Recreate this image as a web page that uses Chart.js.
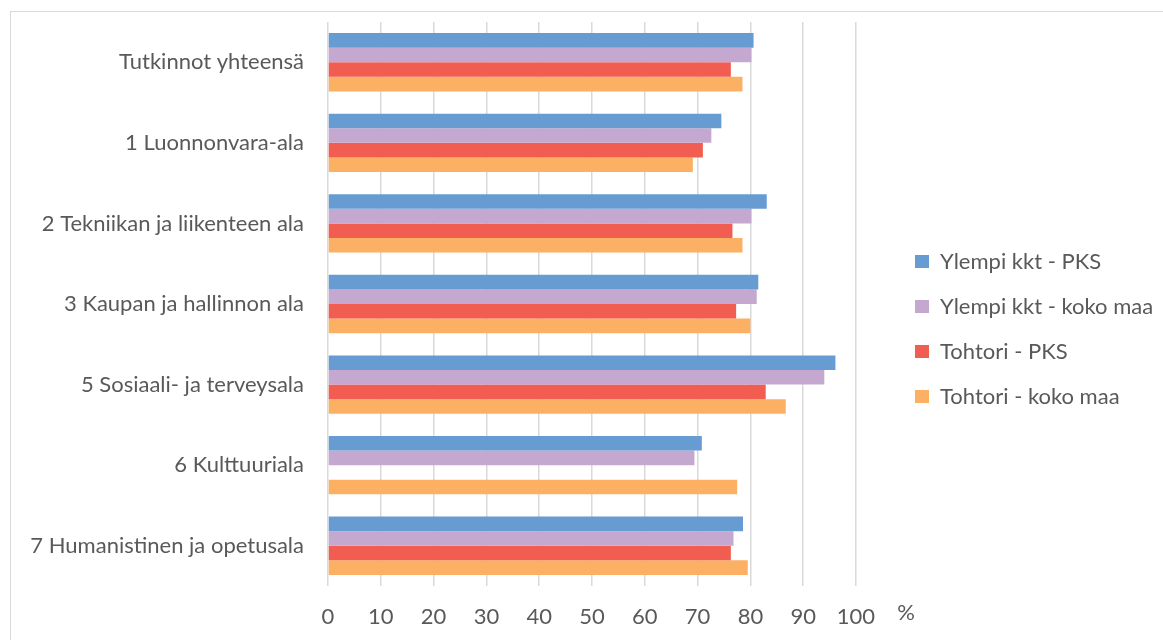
<!DOCTYPE html>
<html>
<head>
<meta charset="utf-8">
<script src="https://cdn.jsdelivr.net/npm/chart.js@4.4.0/dist/chart.umd.min.js"></script>
<style>
  html, body { margin: 0; padding: 0; background: #fff; overflow: hidden; }
  #frame { position: absolute; left: 10px; top: 11px; width: 1300px; height: 700px; border: 1px solid #d9d9d9; }
  #wrap { position: absolute; left: 0; top: 0; width: 1300px; height: 640px; }
</style>
</head>
<body>
<div id="frame"></div>
<div id="wrap"><canvas id="chart" width="1300" height="640"></canvas></div>
<script>
// categories (top to bottom)
const categories = [
    'Tutkinnot yhteensä',
    '1 Luonnonvara-ala',
    '2 Tekniikan ja liikenteen ala',
    '3 Kaupan ja hallinnon ala',
    '5 Sosiaali- ja terveysala',
    '6 Kulttuuriala',
    '7 Humanistinen ja opetusala'
];

// series values, %
const ylempiPks      = [80.6, 74.5, 83.1, 81.5, 96.1, 70.8, 78.6];
const ylempiKokoMaa  = [80.2, 72.6, 80.2, 81.2, 94.0, 69.4, 76.8];
const tohtoriPks     = [76.3, 71.0, 76.6, 77.3, 82.9, null, 76.3];
const tohtoriKokoMaa = [78.5, 69.1, 78.5, 80.0, 86.7, 77.5, 79.5];

const seriesNames = ['Ylempi kkt - PKS', 'Ylempi kkt - koko maa', 'Tohtori - PKS', 'Tohtori - koko maa'];
const xTicks = [0, 10, 20, 30, 40, 50, 60, 70, 80, 90, 100];

const colors = ['#679cd3', '#c5a8cf', '#f15d50', '#fbb063'];
const textColor = '#595959';
const font = { family: 'Lato', size: 22 };

// the "%" sign sits to the right of the last tick label
const percentSign = {
    id: 'percentSign',
    afterDraw(chart) {
        const x = chart.scales.x;
        const ctx = chart.ctx;
        ctx.save();
        ctx.fillStyle = textColor;
        ctx.font = '22px Lato';
        ctx.textAlign = 'center';
        ctx.textBaseline = 'middle';
        ctx.fillText('%', x.getPixelForValue(100) + 50, x.top + 27);
        ctx.restore();
    }
};

const allValues = [ylempiPks, ylempiKokoMaa, tohtoriPks, tohtoriKokoMaa];

const ctx = document.getElementById('chart').getContext('2d');
const chart = new Chart(ctx, {
    type: 'bar',
    data: {
        labels: categories,
        datasets: allValues.map((vals, i) => ({
            label: seriesNames[i],
            data: vals,
            backgroundColor: colors[i],
            borderWidth: 0,
            categoryPercentage: 0.724,
            barPercentage: 1.0
        }))
    },
    options: {
        indexAxis: 'y',
        responsive: false,
        animation: false,
        layout: { padding: { top: 22, bottom: 4, left: 0, right: 0 } },
        scales: {
            x: {
                min: 0,
                max: 106.82,
                afterBuildTicks: (s) => { s.ticks = xTicks.map(v => ({ value: v })); },
                afterFit: (s) => { s.height = 50; s.paddingLeft = 0; s.paddingRight = 0; },
                grid: { color: '#d9d9d9', lineWidth: 1.5, drawTicks: false },
                border: { display: false },
                ticks: { color: textColor, font: font, padding: 18 }
            },
            y: {
                afterFit: (s) => { s.width = 328; s.paddingTop = 0; s.paddingBottom = 0; },
                grid: { display: false, drawTicks: false },
                border: { display: false },
                ticks: { color: textColor, font: font, padding: 24 }
            }
        },
        plugins: {
            legend: {
                position: 'right',
                labels: { boxWidth: 14, boxHeight: 13, padding: 23, color: textColor, font: font }
            },
            tooltip: { enabled: false }
        }
    },
    plugins: [percentSign]
});

// push the legend so the plot area ends where the reference puts it
chart.options.layout.padding.right = chart.chartArea.right - 892;
chart.update();
</script>
</body>
</html>
